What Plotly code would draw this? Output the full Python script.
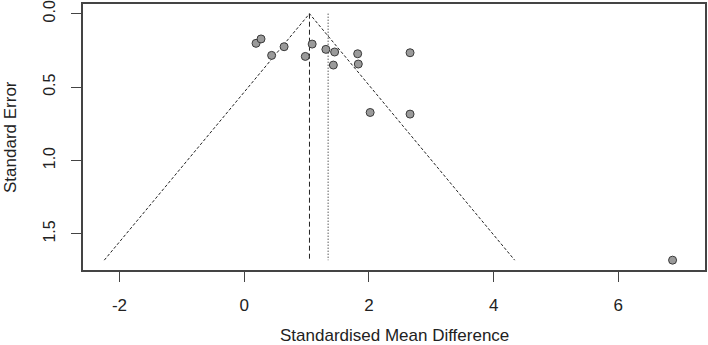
import plotly.graph_objects as go

# Study effect sizes (standardised mean difference) and their standard errors
smd = [0.19, 0.27, 0.44, 0.64, 0.98, 1.09, 1.31, 1.45, 1.43, 1.82, 1.83, 2.66, 2.02, 2.66, 6.87]
se = [0.202, 0.172, 0.284, 0.225, 0.291, 0.207, 0.243, 0.261, 0.350, 0.273, 0.343, 0.266, 0.673, 0.684, 1.679]

pooled_est = 1.047      # summary estimate (dashed vertical line / funnel apex)
ref_est = 1.346         # second reference estimate (dotted vertical line)
z = 1.96

x_ticks = [-2, 0, 2, 4, 6]
y_ticks = [0.0, 0.5, 1.0, 1.5]
y_tick_labels = ["0.0", "0.5", "1.0", "1.5"]

max_se = max(se)
font_family = "Liberation Sans, Arial, sans-serif"
axis_col = "#444444"
fs = 17

fig = go.Figure()

# Funnel (pseudo 95% CI) lines
fig.add_trace(go.Scatter(
    x=[pooled_est - z * max_se, pooled_est, pooled_est + z * max_se],
    y=[max_se, 0, max_se],
    mode="lines",
    line=dict(color="#222222", width=1, dash="3px,2px"),
    hoverinfo="skip", showlegend=False))

# Vertical line at pooled estimate
fig.add_trace(go.Scatter(
    x=[pooled_est, pooled_est], y=[0, max_se],
    mode="lines",
    line=dict(color="#222222", width=1, dash="5px,3px"),
    hoverinfo="skip", showlegend=False))

# Dotted line at reference estimate
fig.add_trace(go.Scatter(
    x=[ref_est, ref_est], y=[0, max_se],
    mode="lines",
    line=dict(color="#111111", width=1, dash="1px,2px"),
    hoverinfo="skip", showlegend=False))

# Studies
fig.add_trace(go.Scatter(
    x=smd, y=se, mode="markers",
    marker=dict(size=8, color="#9a9a9a", line=dict(color="#3a3a3a", width=1)),
    showlegend=False))

fig.update_layout(
    width=708, height=345,
    margin=dict(l=83, r=3, t=4, b=75, autoexpand=False),
    paper_bgcolor="white", plot_bgcolor="white",
    font=dict(family=font_family, size=fs, color="#222222"),
    xaxis=dict(
        range=[-2.585, 7.39], tickvals=x_ticks, ticktext=[str(v) for v in x_ticks],
        showgrid=False, zeroline=False, automargin=False,
        showline=True, mirror=True, linecolor=axis_col, linewidth=1.5,
        ticks="outside", ticklen=10, tickcolor=axis_col, tickwidth=1.2,
        ticklabelstandoff=9,
        tickfont=dict(size=fs),
    ),
    yaxis=dict(
        range=[1.746, -0.066], tickvals=y_ticks, ticktext=y_tick_labels,
        showgrid=False, zeroline=False, automargin=False,
        showline=True, mirror=True, linecolor=axis_col, linewidth=1.5,
        ticks="outside", ticklen=10, tickcolor=axis_col, tickwidth=1.2,
        tickangle=-90, ticklabelstandoff=10,
        tickfont=dict(size=16),
    ),
    annotations=[
        dict(text="Standardised Mean Difference", xref="paper", yref="paper",
             x=0.5, y=0, xanchor="center", yanchor="middle", yshift=-65,
             showarrow=False, font=dict(size=fs)),
        dict(text="Standard Error", xref="paper", yref="paper",
             x=0, y=0.5, xanchor="center", yanchor="middle", xshift=-73,
             textangle=-90, showarrow=False, font=dict(size=fs)),
    ],
)

fig.write_html(
    "out.html",
    config={"displayModeBar": False},
    post_script="document.body.style.margin='0';document.body.style.overflow='hidden';",
)
